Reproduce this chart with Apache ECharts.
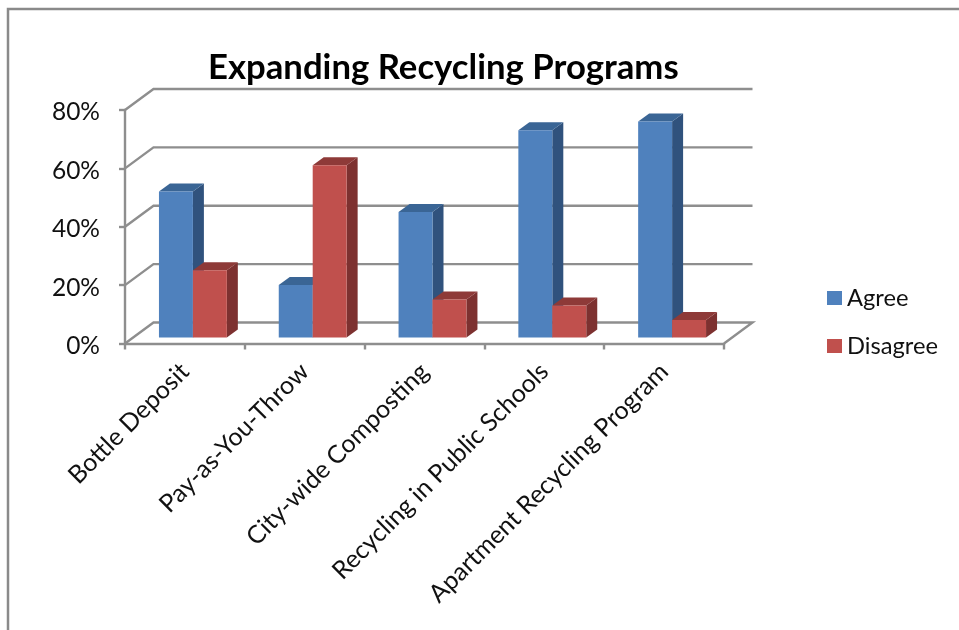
<!DOCTYPE html>
<html>
<head>
<meta charset="utf-8">
<style>html,body{margin:0;padding:0;background:#fff}#c{width:959px;height:630px}</style>
<script src="https://cdn.jsdelivr.net/npm/echarts@6/dist/echarts.min.js"></script>
</head>
<body>
<div id="c"></div>
<script>
const categories = ['Bottle Deposit','Pay-as-You-Throw','City-wide Composting','Recycling in Public Schools','Apartment Recycling Program'];
const agree = [50,18,43,71,74];
const disagree = [23,59,13,11,6];
const ticks = [0,20,40,60,80];

const FONT = 'Lato, "Open Sans", sans-serif';
const WALL = {dx:28.5, dy:-21};
const BAR = {shiftX:8, shiftY:-6, frac:34/120, dx:11, dy:-8};
const LINE = '#8e8e8e';

function poly(points, fill){
  return {type:'polygon', shape:{points}, style:{fill}};
}
function barRender(seriesIdx, front, top, side){
  return function(params, api){
    const i = api.value(0), v = api.value(1);
    const t = api.coord([i, v]), b = api.coord([i, 0]);
    const w = api.size([1,0])[0] * BAR.frac;
    const x0 = t[0] + BAR.shiftX - w + seriesIdx * w, x1 = x0 + w;
    const yT = t[1] + BAR.shiftY, yB = b[1] + BAR.shiftY;
    const dx = BAR.dx, dy = BAR.dy;
    return {type:'group', children:[
      poly([[x1,yT],[x1+dx,yT+dy],[x1+dx,yB+dy],[x1,yB]], side),
      poly([[x0,yT],[x0+dx,yT+dy],[x1+dx,yT+dy],[x1,yT]], top),
      poly([[x0,yT],[x1,yT],[x1,yB],[x0,yB]], front)
    ]};
  };
}
function wallRender(params, api){
  const v = api.value(1);
  const y = api.coord([0, v])[1];
  const cs = params.coordSys;
  const x = cs.x, r = cs.x + cs.width;
  const pts = [[x,y],[x+WALL.dx,y+WALL.dy],[r+WALL.dx,y+WALL.dy]];
  if (v === 0) pts.push([r,y]);
  return {type:'polyline', shape:{points:pts}, style:{stroke:LINE, lineWidth:2.4, fill:null}};
}

const chart = echarts.init(document.getElementById('c'), null, {renderer:'canvas'});
chart.setOption({
  animation:false,
  backgroundColor:'#fff',
  title:{text:'Expanding Recycling Programs', left:203, top:45,
    textStyle:{fontFamily:FONT, fontSize:34.7, fontWeight:'bold', color:'#000'}},
  legend:{orient:'vertical', left:822, top:281, itemWidth:15, itemHeight:14, itemGap:24,
    icon:'rect', data:['Agree','Disagree'],
    textStyle:{fontFamily:FONT, fontSize:23.7, color:'#111', padding:[0,0,0,0]}},
  grid:{left:125, top:110, width:599, height:233.5},
  xAxis:{type:'category', data:categories, boundaryGap:true,
    axisLine:{lineStyle:{color:LINE, width:2.4}},
    axisTick:{show:true, length:6, lineStyle:{color:LINE, width:2.4}},
    axisLabel:{rotate:45, interval:0, margin:24, fontFamily:FONT, fontSize:25, color:'#111'}},
  yAxis:{type:'value', min:0, max:80, interval:20,
    axisLine:{show:true, lineStyle:{color:LINE, width:2.4}},
    axisTick:{show:true, length:6, lineStyle:{color:LINE, width:2.4}},
    splitLine:{show:false},
    axisLabel:{formatter:'{value}%', margin:25, verticalAlign:'top', lineHeight:5, fontFamily:FONT, fontSize:24.5, color:'#111'}},
  series:[
    {type:'custom', name:'walls', silent:true, z:1, clip:false,
      renderItem:wallRender, encode:{x:0,y:1},
      data:ticks.map(v=>[0,v])},
    {type:'custom', name:'Agree', z:2, clip:false, itemStyle:{color:'#4f81bd'},
      renderItem:barRender(0,'#4f81bd','#3a6595','#30527d'), encode:{x:0,y:1},
      data:agree.map((v,i)=>[i,v])},
    {type:'custom', name:'Disagree', z:3, clip:false, itemStyle:{color:'#c0504d'},
      renderItem:barRender(1,'#c0504d','#8e3a38','#7d3130'), encode:{x:0,y:1},
      data:disagree.map((v,i)=>[i,v])}
  ],
  graphic:[{type:'polyline', silent:true, z:100,
    shape:{points:[[8,630],[8,9],[959,9]]},
    style:{stroke:'#8a8a8a', lineWidth:2.5, fill:null}}]
});
</script>
</body>
</html>
